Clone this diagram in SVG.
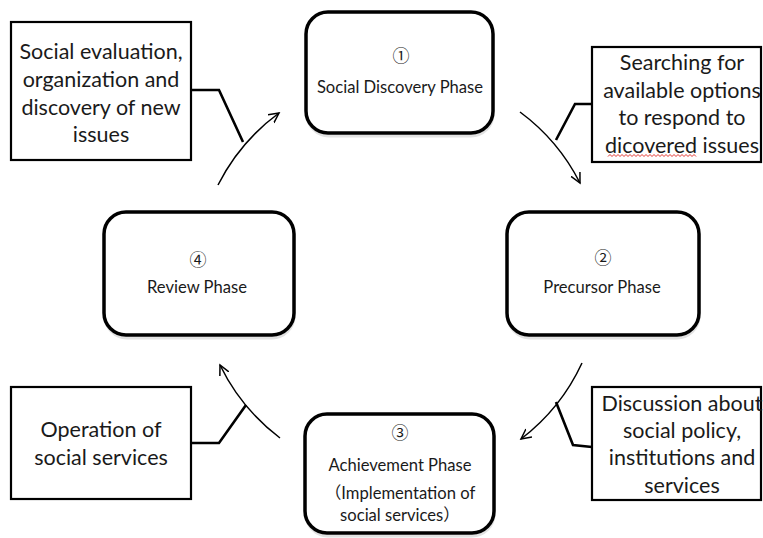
<svg xmlns="http://www.w3.org/2000/svg" width="763" height="538" viewBox="0 0 763 538">
  <style>
    .phase { fill: #ffffff; stroke: #000000; stroke-width: 3.5; }
    .shadow { fill: none; stroke: #e2e2e2; stroke-width: 3; }
    .note { fill: #ffffff; stroke: #000000; stroke-width: 2.2; }
    .leader { fill: none; stroke: #000000; stroke-width: 2.6; stroke-linejoin: miter; }
    .flow { fill: none; stroke: #000000; stroke-width: 1.5; }
    .label { font-family: Lato, "Noto Sans CJK JP", sans-serif; font-size: 16.6px; fill: #1a1a1a; text-anchor: middle; }
    .num { font-family: "Noto Sans CJK JP", "DejaVu Sans", sans-serif; font-size: 17px; fill: #1a1a1a; text-anchor: middle; }
    .ntext { font-family: Lato, "Noto Sans CJK JP", sans-serif; font-size: 21.5px; fill: #1a1a1a; text-anchor: middle; }
  </style>
  <defs>
    <marker id="arrow" markerWidth="12" markerHeight="12" refX="10" refY="5" orient="auto" markerUnits="userSpaceOnUse" viewBox="0 0 12 10">
      <path d="M0,0 L10,5 L0,10" fill="none" stroke="#000" stroke-width="1.5"/>
    </marker>
  </defs>

  <!-- Phase nodes -->
  <g id="phase-1">
    <rect class="shadow" x="307" y="15" width="186" height="121" rx="22"/>
    <rect class="phase" x="306" y="12" width="187" height="121" rx="22"/>
    <text class="num" x="401" y="62">①</text>
    <text class="label" x="400" y="93">Social Discovery Phase</text>
  </g>
  <g id="phase-2">
    <rect class="shadow" x="508" y="215" width="191" height="123" rx="22"/>
    <rect class="phase" x="507" y="212" width="192" height="123" rx="22"/>
    <text class="num" x="603" y="264">②</text>
    <text class="label" x="602" y="293">Precursor Phase</text>
  </g>
  <g id="phase-3">
    <rect class="shadow" x="306" y="417" width="188" height="119" rx="22"/>
    <rect class="phase" x="305" y="414" width="189" height="119" rx="22"/>
    <text class="num" x="400" y="439">③</text>
    <text class="label" x="400" y="471">Achievement Phase</text>
    <text class="label" x="400" y="499">（Implementation of</text>
    <text class="label" x="400" y="521">social services）</text>
  </g>
  <g id="phase-4">
    <rect class="shadow" x="105" y="215" width="189" height="123" rx="22"/>
    <rect class="phase" x="104" y="212" width="190" height="123" rx="22"/>
    <text class="num" x="198" y="266">④</text>
    <text class="label" x="197" y="293">Review Phase</text>
  </g>

  <!-- Notes -->
  <g id="note-review">
    <rect class="note" x="11" y="22" width="180" height="138"/>
    <text class="ntext" x="101" y="59">Social evaluation,</text>
    <text class="ntext" x="101" y="87">organization and</text>
    <text class="ntext" x="101" y="115">discovery of new</text>
    <text class="ntext" x="101" y="142">issues</text>
  </g>
  <g id="note-search">
    <rect class="note" x="592" y="47" width="169" height="115"/>
    <text class="ntext" x="682" y="70">Searching for</text>
    <text class="ntext" x="682" y="97.5">available options</text>
    <text class="ntext" x="682" y="125">to respond to</text>
    <text class="ntext" x="682" y="152.5">dicovered issues</text>
    <path d="M608,156.5 l2,-2 l2,2 l2,-2 l2,2 l2,-2 l2,2 l2,-2 l2,2 l2,-2 l2,2 l2,-2 l2,2 l2,-2 l2,2 l2,-2 l2,2 l2,-2 l2,2 l2,-2 l2,2 l2,-2 l2,2 l2,-2 l2,2 l2,-2 l2,2 l2,-2 l2,2 l2,-2 l2,2 l2,-2 l2,2 l2,-2 l2,2 l2,-2 l2,2 l2,-2 l2,2 l2,-2 l2,2 l2,-2 l2,2 l2,-2 l2,2" fill="none" stroke="#e0201b" stroke-width="0.9"/>
  </g>
  <g id="note-discussion">
    <rect class="note" x="592" y="387" width="169" height="113"/>
    <text class="ntext" x="682" y="411">Discussion about</text>
    <text class="ntext" x="682" y="438">social policy,</text>
    <text class="ntext" x="682" y="465">institutions and</text>
    <text class="ntext" x="682" y="493">services</text>
  </g>
  <g id="note-operation">
    <rect class="note" x="11" y="387" width="180" height="112"/>
    <text class="ntext" x="101" y="437">Operation of</text>
    <text class="ntext" x="101" y="465">social services</text>
  </g>

  <!-- Connectors: cycle arrows and note leaders -->
  <g id="connectors">
    <path class="flow" d="M218,185 A202,202 0 0 1 279,113" marker-end="url(#arrow)"/>
    <path class="flow" d="M520,112 A202,202 0 0 1 580,183" marker-end="url(#arrow)"/>
    <path class="flow" d="M582,363 A202,202 0 0 1 521,439" marker-end="url(#arrow)"/>
    <path class="flow" d="M280,438 A202,202 0 0 1 220,365" marker-end="url(#arrow)"/>

    <path class="leader" d="M191,90 L219,90 L243,142"/>
    <path class="leader" d="M592,104 L575,104 L556,140"/>
    <path class="leader" d="M592,447 L573,445 L556,402"/>
    <path class="leader" d="M191,443 L219,443 L246,405"/>
  </g>
</svg>
